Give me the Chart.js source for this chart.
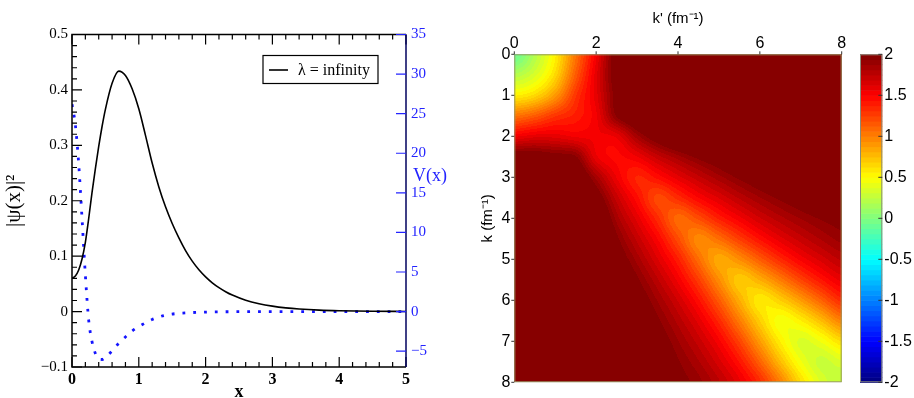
<!DOCTYPE html>
<html>
<head>
  <meta charset="utf-8">
  <script src="https://cdn.jsdelivr.net/npm/chart.js@4.4.0/dist/chart.umd.min.js"></script>
  <style>
    html, body { margin: 0; padding: 0; background: #fff; }
    body { width: 914px; height: 398px; position: relative; overflow: hidden; }
    .panel { position: absolute; top: 0; }
    #wrapWave { left: 0; width: 460px; height: 404px; }
    #wrapMap { left: 460px; width: 400px; height: 398px; }
    #wrapBar { left: 850px; width: 64px; height: 398px; }
  </style>
  <title>wave function and potential</title>
</head>
<body>
  <div class="panel" id="wrapWave"><canvas id="wave"></canvas></div>
  <div class="panel" id="wrapMap"><canvas id="kmap"></canvas></div>
  <div class="panel" id="wrapBar"><canvas id="cbar"></canvas></div>

  <script>
    // ---- left panel: |psi(x)|^2 and V(x) ----
    const xPsi  = [0, 0.05, 0.1, 0.15, 0.2, 0.25, 0.3, 0.35, 0.4, 0.45, 0.5, 0.6, 0.7, 0.8, 0.9, 1.0, 1.1, 1.2, 1.3, 1.4, 1.5, 1.6, 1.7, 1.8, 1.9, 2.0, 2.1, 2.2, 2.3, 2.4, 2.6, 2.8, 3.0, 3.2, 3.4, 3.7, 4.0, 4.5, 5.0];
    const psiSq = [0.060, 0.064, 0.075, 0.095, 0.125, 0.168, 0.215, 0.258, 0.298, 0.334, 0.365, 0.412, 0.434, 0.426, 0.402, 0.366, 0.318, 0.268, 0.225, 0.189, 0.159, 0.133, 0.110, 0.091, 0.0755, 0.0627, 0.052, 0.0432, 0.0359, 0.0298, 0.0205, 0.0142, 0.0098, 0.0067, 0.0046, 0.0026, 0.0015, 0.0006, 0.0002];
    const xPot  = [0, 0.05, 0.1, 0.15, 0.2, 0.25, 0.3, 0.35, 0.4, 0.45, 0.5, 0.6, 0.7, 0.8, 0.9, 1.0, 1.2, 1.4, 1.6, 1.8, 2.0, 2.5, 3.0, 4.0, 5.0];
    const vPot  = [26.2, 23.6, 18.7, 11.8, 4.6, -1.1, -3.8, -5.3, -5.95, -6.05, -5.8, -4.95, -4.0, -3.2, -2.45, -1.9, -1.0, -0.45, -0.22, -0.12, -0.06, -0.01, 0, 0, 0];
    const xTicks   = [0, 1, 2, 3, 4, 5];
    const psiTicks = [-0.1, 0, 0.1, 0.2, 0.3, 0.4, 0.5];
    const potTicks = [-5, 0, 5, 10, 15, 20, 25, 30, 35];
    const seriesLabel = "\u03bb = infinity";

    // ---- right panel: V(k, k') map ----
    const kGrid  = [0, 0.5, 1, 1.5, 2, 2.5, 3, 3.5, 4, 4.5, 5, 5.5, 6, 6.5, 7, 7.5, 8];
    const kpGrid = [0, 0.5, 1, 1.5, 2, 2.5, 3, 3.5, 4, 4.5, 5, 5.5, 6, 6.5, 7, 7.5, 8];
    const vkk = [
      [-0.1, 0.2, 0.55, 1.05, 1.55, 2.05, 2.3, 2.4, 2.5, 2.5, 2.5, 2.5, 2.5, 2.5, 2.5, 2.5, 2.5],
      [0.2, 0.35, 0.65, 1.15, 1.6, 2.05, 2.3, 2.4, 2.5, 2.5, 2.5, 2.5, 2.5, 2.5, 2.5, 2.5, 2.5],
      [0.55, 0.65, 0.9, 1.3, 1.6, 2.0, 2.25, 2.4, 2.5, 2.5, 2.5, 2.5, 2.5, 2.5, 2.5, 2.5, 2.5],
      [1.05, 1.15, 1.3, 1.4, 1.55, 1.95, 2.15, 2.3, 2.4, 2.5, 2.5, 2.5, 2.5, 2.5, 2.5, 2.5, 2.5],
      [1.55, 1.6, 1.6, 1.55, 1.55, 1.58, 1.85, 2.05, 2.2, 2.3, 2.4, 2.4, 2.4, 2.4, 2.4, 2.4, 2.4],
      [2.05, 2.05, 2.0, 1.95, 1.58, 1.49, 1.56, 1.72, 1.85, 1.97, 2.07, 2.15, 2.22, 2.3, 2.3, 2.3, 2.3],
      [2.3, 2.3, 2.25, 2.15, 1.85, 1.56, 1.37, 1.46, 1.6, 1.73, 1.85, 1.96, 2.05, 2.12, 2.2, 2.25, 2.3],
      [2.4, 2.4, 2.4, 2.3, 2.05, 1.72, 1.46, 1.23, 1.34, 1.5, 1.63, 1.76, 1.87, 1.96, 2.04, 2.1, 2.2],
      [2.5, 2.5, 2.5, 2.4, 2.2, 1.85, 1.6, 1.34, 1.1, 1.21, 1.39, 1.54, 1.68, 1.79, 1.88, 1.95, 2.0],
      [2.5, 2.5, 2.5, 2.5, 2.3, 1.97, 1.73, 1.5, 1.21, 0.97, 1.08, 1.27, 1.45, 1.6, 1.72, 1.82, 1.9],
      [2.5, 2.5, 2.5, 2.5, 2.4, 2.07, 1.85, 1.63, 1.39, 1.08, 0.84, 0.95, 1.15, 1.35, 1.52, 1.65, 1.76],
      [2.5, 2.5, 2.5, 2.5, 2.4, 2.15, 1.96, 1.76, 1.54, 1.27, 0.95, 0.71, 0.82, 1.02, 1.24, 1.43, 1.58],
      [2.5, 2.5, 2.5, 2.5, 2.4, 2.22, 2.05, 1.87, 1.68, 1.45, 1.15, 0.82, 0.58, 0.69, 0.89, 1.12, 1.34],
      [2.5, 2.5, 2.5, 2.5, 2.4, 2.3, 2.12, 1.96, 1.79, 1.6, 1.35, 1.02, 0.69, 0.46, 0.56, 0.76, 1.0],
      [2.5, 2.5, 2.5, 2.5, 2.4, 2.3, 2.2, 2.04, 1.88, 1.72, 1.52, 1.24, 0.89, 0.56, 0.36, 0.45, 0.63],
      [2.5, 2.5, 2.5, 2.5, 2.4, 2.3, 2.25, 2.1, 1.95, 1.82, 1.65, 1.43, 1.12, 0.76, 0.45, 0.29, 0.36],
      [2.5, 2.5, 2.5, 2.5, 2.4, 2.3, 2.3, 2.2, 2.0, 1.9, 1.76, 1.58, 1.34, 1.0, 0.63, 0.36, 0.25]
    ];
    const kpTicks = [0, 2, 4, 6, 8];
    const kTicks  = [0, 1, 2, 3, 4, 5, 6, 7, 8];
    const cbTicks = [-2, -1.5, -1, -0.5, 0, 0.5, 1, 1.5, 2];

    const serif = "'Liberation Serif', 'Times New Roman', serif";
    const sans = "'Liberation Sans', Arial, sans-serif";
    const blue = "rgb(35,35,255)";
    const nColors = 64;

    function minus(v) { return v < 0 ? "\u2212" + Math.abs(v) : String(v); }
    function fixTicks(list) { return function(s) { s.ticks = list.map(v => ({value: v})); }; }

    // matlab style jet colormap with 64 steps, t in [0,1]
    function jet(t) {
      t = Math.min(1, Math.max(0, t));
      const idx = Math.min(nColors - 1, Math.floor(t * nColors));
      const q = (idx + 0.5) / nColors;
      const c = f => Math.round(255 * Math.min(1, Math.max(0, 1.5 - Math.abs(4 * q - f))));
      return [c(3), c(2), c(1)];
    }

    // Catmull-Rom step used for shading between grid nodes
    function cr(p0, p1, p2, p3, t) {
      return p1 + 0.5 * t * (p2 - p0 + t * (2 * p0 - 5 * p1 + 4 * p2 - p3 + t * (3 * (p1 - p2) + p3 - p0)));
    }

    // frame, inward ticks, V(x) label and legend for the left panel
    const waveFrame = {
      id: "waveFrame",
      afterDatasetsDraw(chart) {
        const {ctx, chartArea: a, scales: {x, y, y2}} = chart;
        ctx.save();
        ctx.strokeStyle = "#000";
        ctx.lineWidth = 1.5;
        ctx.beginPath();
        ctx.moveTo(a.right, a.top); ctx.lineTo(a.left, a.top);
        ctx.lineTo(a.left, a.bottom); ctx.lineTo(a.right, a.bottom);
        ctx.stroke();

        ctx.lineWidth = 1.2;
        ctx.beginPath();
        for (let i = 0; i <= 25; i++) {
          const px = x.getPixelForValue(i * 0.2);
          const len = i % 5 === 0 ? 10 : 5;
          ctx.moveTo(px, a.bottom); ctx.lineTo(px, a.bottom - len);
          ctx.moveTo(px, a.top); ctx.lineTo(px, a.top + len);
        }
        for (let i = -5; i <= 25; i++) {
          const py = y.getPixelForValue(i * 0.02);
          const len = i % 5 === 0 ? 10 : 5;
          ctx.moveTo(a.left, py); ctx.lineTo(a.left + len, py);
        }
        ctx.stroke();

        // right axis
        ctx.strokeStyle = "#00005e";
        ctx.lineWidth = 1.5;
        ctx.beginPath();
        ctx.moveTo(a.right, a.top); ctx.lineTo(a.right, a.bottom);
        ctx.stroke();
        ctx.strokeStyle = blue;
        ctx.lineWidth = 1.2;
        ctx.beginPath();
        potTicks.forEach(v => {
          const py = y2.getPixelForValue(v);
          ctx.moveTo(a.right, py); ctx.lineTo(a.right - 10, py);
        });
        ctx.stroke();

        ctx.fillStyle = blue;
        ctx.font = "18px " + serif;
        ctx.textAlign = "left";
        ctx.textBaseline = "middle";
        ctx.fillText("V(x)", y2.left + 7, y2.getPixelForValue(17.1));

        // legend box
        const w = 115, h = 28;
        const lx = a.right - 28 - w, ly = a.top + 21;
        ctx.fillStyle = "#fff";
        ctx.fillRect(lx, ly, w, h);
        ctx.strokeStyle = "#000";
        ctx.lineWidth = 1.2;
        ctx.strokeRect(lx, ly, w, h);
        ctx.lineWidth = 1.6;
        ctx.beginPath();
        ctx.moveTo(lx + 6, ly + 14.5); ctx.lineTo(lx + 25, ly + 14.5);
        ctx.stroke();
        ctx.fillStyle = "#000";
        ctx.font = "16px " + serif;
        ctx.fillText(chart.data.datasets[0].label, lx + 35, ly + 15);
        ctx.restore();
      }
    };

    new Chart(document.getElementById("wave"), {
      type: "line",
      data: {
        datasets: [{
          label: seriesLabel,
          data: xPsi.map((v, i) => ({x: v, y: psiSq[i]})),
          yAxisID: "y",
          borderColor: "#000",
          borderWidth: 1.6,
          pointRadius: 0,
          cubicInterpolationMode: "monotone"
        }, {
          label: "V(x)",
          data: xPot.map((v, i) => ({x: v, y: vPot[i]})),
          yAxisID: "y2",
          borderColor: "rgb(20,20,255)",
          borderWidth: 2.8,
          borderDash: [2.8, 8],
          borderCapStyle: "butt",
          pointRadius: 0,
          cubicInterpolationMode: "monotone"
        }]
      },
      options: {
        responsive: true,
        maintainAspectRatio: false,
        animation: false,
        events: [],
        layout: { padding: { top: 34.5, left: 0, right: 0, bottom: 0 } },
        plugins: { legend: { display: false }, tooltip: { enabled: false } },
        scales: {
          x: {
            type: "linear", min: 0, max: 5, position: "bottom",
            afterBuildTicks: fixTicks(xTicks),
            afterFit: s => { s.height = 37; },
            grid: { display: false, drawTicks: false },
            border: { display: false },
            ticks: { padding: 3, color: "#000", maxRotation: 0, autoSkip: false,
                     font: { family: serif, size: 16, weight: "bold" } },
            title: { display: true, text: "x", color: "#000",
                     font: { family: serif, size: 18, weight: "bold" }, padding: { top: 0, bottom: 1.2 } }
          },
          y: {
            type: "linear", min: -0.1, max: 0.5, position: "left",
            afterBuildTicks: fixTicks(psiTicks),
            afterFit: s => { s.width = 72; },
            grid: { display: false, drawTicks: false },
            border: { display: false },
            ticks: { padding: 4, color: "#000", font: { family: serif, size: 15 }, callback: v => minus(v) },
            title: { display: true, text: "|\u03c8(x)|\u00b2", color: "#000",
                     font: { family: serif, size: 21 }, padding: { top: 2, bottom: 0 } }
          },
          y2: {
            type: "linear", min: -7, max: 35, position: "right",
            afterBuildTicks: fixTicks(potTicks),
            afterFit: s => { s.width = 54; },
            grid: { display: false, drawTicks: false },
            border: { display: false },
            ticks: { padding: 5, color: blue, font: { family: serif, size: 15 }, callback: v => minus(v) }
          }
        }
      },
      plugins: [waveFrame]
    });

    // ---- momentum space map ----
    const heatPoints = [];
    kGrid.forEach((k, i) => kpGrid.forEach((kp, j) => heatPoints.push({x: kp, y: k, v: vkk[i][j], i: i, j: j})));

    // shades the map pixel by pixel between the grid nodes
    const heatLayer = {
      id: "heatLayer",
      beforeDatasetsDraw(chart) {
        const {ctx, chartArea: a, scales: {x, y}} = chart;
        const nI = kGrid.length, nJ = kpGrid.length;
        const grid = kGrid.map(() => new Array(nJ).fill(0));
        chart.data.datasets[0].data.forEach(p => { grid[p.i][p.j] = p.v; });
        const at = (i, j) => grid[Math.min(nI - 1, Math.max(0, i))][Math.min(nJ - 1, Math.max(0, j))];
        const L = Math.round(a.left), T = Math.round(a.top);
        const W = Math.round(a.right) - L, H = Math.round(a.bottom) - T;
        const off = document.createElement("canvas");
        off.width = W; off.height = H;
        const octx = off.getContext("2d");
        const img = octx.createImageData(W, H);
        const lo = cbTicks[0], hi = cbTicks[cbTicks.length - 1];
        const di = kGrid[1] - kGrid[0], dj = kpGrid[1] - kpGrid[0];
        for (let py = 0; py < H; py++) {
          const fi = (y.getValueForPixel(T + py + 0.5) - kGrid[0]) / di;
          const i1 = Math.min(nI - 2, Math.max(0, Math.floor(fi)));
          const t = Math.min(1, Math.max(0, fi - i1));
          for (let px = 0; px < W; px++) {
            const fj = (x.getValueForPixel(L + px + 0.5) - kpGrid[0]) / dj;
            const j1 = Math.min(nJ - 2, Math.max(0, Math.floor(fj)));
            const u = Math.min(1, Math.max(0, fj - j1));
            const rows = [];
            for (let r = -1; r <= 2; r++) {
              rows.push(cr(at(i1 + r, j1 - 1), at(i1 + r, j1), at(i1 + r, j1 + 1), at(i1 + r, j1 + 2), u));
            }
            const v = cr(rows[0], rows[1], rows[2], rows[3], t);
            const [rr, gg, bb] = jet((v - lo) / (hi - lo));
            const o = (py * W + px) * 4;
            img.data[o] = rr; img.data[o + 1] = gg; img.data[o + 2] = bb; img.data[o + 3] = 255;
          }
        }
        octx.putImageData(img, 0, 0);
        ctx.drawImage(off, L, T);
      },
      afterDatasetsDraw(chart) {
        const {ctx, chartArea: a, scales: {x, y}} = chart;
        ctx.save();
        ctx.strokeStyle = "#9a9a6a";
        ctx.lineWidth = 1;
        ctx.strokeRect(a.left + 0.5, a.top + 0.5, a.width - 1, a.height - 1);
        ctx.strokeStyle = "#333";
        ctx.beginPath();
        kpTicks.forEach(v => { const px = x.getPixelForValue(v); ctx.moveTo(px, a.top); ctx.lineTo(px, a.top - 3); });
        kTicks.forEach(v => { const py = y.getPixelForValue(v); ctx.moveTo(a.left, py); ctx.lineTo(a.left - 3, py); });
        ctx.stroke();
        ctx.restore();
      }
    };

    new Chart(document.getElementById("kmap"), {
      type: "scatter",
      data: { datasets: [{ label: "V(k,k')", data: heatPoints, pointRadius: 0, showLine: false }] },
      options: {
        responsive: true,
        maintainAspectRatio: false,
        animation: false,
        events: [],
        layout: { padding: { top: 0, left: 0, right: 18.3, bottom: 15.7 } },
        plugins: { legend: { display: false }, tooltip: { enabled: false } },
        scales: {
          x: {
            type: "linear", min: 0, max: 8, position: "top",
            afterBuildTicks: fixTicks(kpTicks),
            afterFit: s => { s.height = 54.3; },
            grid: { display: false, drawTicks: false },
            border: { display: false },
            ticks: { padding: 1, color: "#000", maxRotation: 0, font: { family: sans, size: 16 } },
            title: { display: true, text: "k' (fm\u207b\u00b9)", color: "#000",
                     font: { family: sans, size: 15 }, padding: { top: 9.5, bottom: 0 } }
          },
          y: {
            type: "linear", min: 0, max: 8, reverse: true, position: "left",
            afterBuildTicks: fixTicks(kTicks),
            afterFit: s => { s.width = 54.3; },
            grid: { display: false, drawTicks: false },
            border: { display: false },
            ticks: { padding: 4, color: "#000", font: { family: sans, size: 16 } },
            title: { display: true, text: "k (fm\u207b\u00b9)", color: "#000",
                     font: { family: sans, size: 15 }, padding: { top: 19, bottom: 0 } }
          }
        }
      },
      plugins: [heatLayer]
    });

    // ---- colour bar ----
    const barFill = {
      id: "barFill",
      beforeDatasetsDraw(chart) {
        const {ctx, chartArea: a, scales: {y}} = chart;
        const lo = cbTicks[0], hi = cbTicks[cbTicks.length - 1];
        ctx.save();
        for (let s = 0; s < nColors; s++) {
          const [r, g, b] = jet((s + 0.5) / nColors);
          const yA = y.getPixelForValue(lo + (hi - lo) * s / nColors);
          const yB = y.getPixelForValue(lo + (hi - lo) * (s + 1) / nColors);
          ctx.fillStyle = "rgb(" + r + "," + g + "," + b + ")";
          ctx.fillRect(a.left, yB, a.width, yA - yB + 0.6);
        }
        ctx.strokeStyle = "#8a8a7a";
        ctx.lineWidth = 1;
        ctx.strokeRect(a.left + 0.5, a.top + 0.5, a.width - 1, a.height - 1);
        ctx.strokeStyle = "#333";
        ctx.beginPath();
        cbTicks.forEach(v => {
          const py = y.getPixelForValue(v);
          ctx.moveTo(a.right, py); ctx.lineTo(a.right - 4, py);
        });
        ctx.stroke();
        ctx.restore();
      }
    };

    new Chart(document.getElementById("cbar"), {
      type: "scatter",
      data: { datasets: [{ data: [], pointRadius: 0 }] },
      options: {
        responsive: true,
        maintainAspectRatio: false,
        animation: false,
        events: [],
        layout: { padding: { top: 54.3, left: 10, right: 0, bottom: 15.7 } },
        plugins: { legend: { display: false }, tooltip: { enabled: false } },
        scales: {
          x: { display: false, min: 0, max: 1 },
          y: {
            type: "linear", min: -2, max: 2, position: "right",
            afterBuildTicks: fixTicks(cbTicks),
            afterFit: s => { s.width = 31.7; },
            grid: { display: false, drawTicks: false },
            border: { display: false },
            ticks: { padding: 2, color: "#000", font: { family: sans, size: 16 }, callback: v => String(v) }
          }
        }
      },
      plugins: [barFill]
    });
  </script>
</body>
</html>
